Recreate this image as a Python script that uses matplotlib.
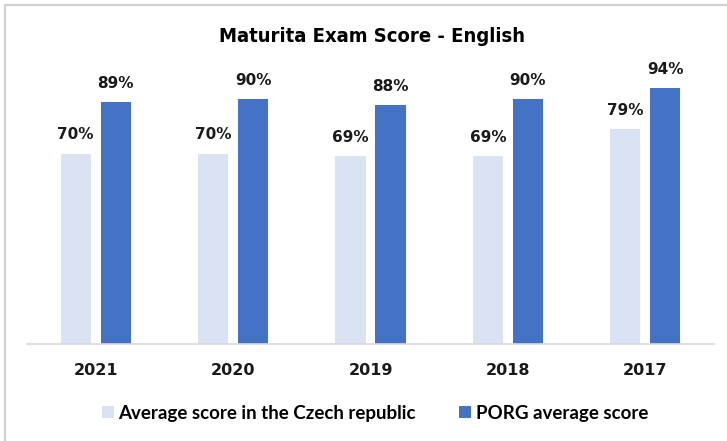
import matplotlib.pyplot as plt
import numpy as np
from matplotlib.lines import Line2D

years = ["2021", "2020", "2019", "2018", "2017"]
czech_avg = [70, 70, 69, 69, 79]
porg_avg = [89, 90, 88, 90, 94]

light = "#dae3f3"
dark = "#4472c4"

fig = plt.figure(figsize=(7.27, 4.41), dpi=100)
ax = fig.add_axes([27/727, 1 - 344/441, 687/727, (344 - 72)/441])

x = np.arange(len(years))
w = 0.22
off = 0.146
b1 = ax.bar(x - off, czech_avg, w, color=light, label="Average score in the Czech republic")
b2 = ax.bar(x + off, porg_avg, w, color=dark, label="PORG average score")

for bars, vals in ((b1, czech_avg), (b2, porg_avg)):
    for r, v in zip(bars, vals):
        ax.annotate(f"{v}%", (r.get_x() + r.get_width() / 2, v), xytext=(0, 8),
                    textcoords="offset points", ha="center", va="bottom",
                    fontsize=11, fontweight="bold", color="#1a1a1a")

ax.set_xlim(-0.5, len(years) - 0.5)
ax.set_ylim(0, 100)
ax.set_xticks(x)
ax.set_xticklabels(years, fontsize=11.5, fontweight="bold", color="#1a1a1a")
ax.tick_params(axis="x", length=0, pad=14)
ax.set_yticks([])
for s in ["top", "right", "left"]:
    ax.spines[s].set_visible(False)
ax.spines["bottom"].set_color("#d9d9d9")
ax.spines["bottom"].set_linewidth(1.2)

fig.text(372/727, 1 - 37/441, "Maturita Exam Score - English", ha="center", va="center",
         fontsize=14.5, fontweight="bold", fontstretch="condensed")

leg = fig.legend(handles=[b1, b2], loc="center", bbox_to_anchor=(375/727, 1 - 413/441),
                 ncol=2, frameon=False, handlelength=0.65, handleheight=0.65,
                 handletextpad=0.25, columnspacing=2.3,
                 prop={"family": "Lato", "weight": "bold", "size": 13.5})

# chart border
fig.add_artist(Line2D([4.5/727, 4.5/727], [0, 1 - 4.5/441], color="#d0d0d0", lw=1.5))
fig.add_artist(Line2D([4.5/727, 1], [1 - 4.5/441, 1 - 4.5/441], color="#d0d0d0", lw=1.5))

fig.savefig("out.png", dpi=100)
